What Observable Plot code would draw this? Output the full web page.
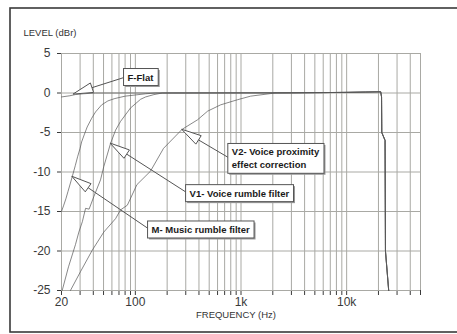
<!DOCTYPE html>
<html><head><meta charset="utf-8">
<script src="https://cdn.jsdelivr.net/npm/d3@7"></script>
<script src="https://cdn.jsdelivr.net/npm/@observablehq/plot@0.6"></script>
<style>
html,body{margin:0;padding:0;background:#fff;}
#chart{position:relative;width:457px;height:334px;overflow:hidden;}
</style></head><body><div id="chart"></div>
<script>
// ---- data ----
const flatFreq  = [20, 24, 27, 32, 42, 60, 100];
const flatLevel = [-0.5, -0.35, -0.2, -0.1, 0, 0, 0];

const musicFreq  = [20, 21, 22, 23, 24.3, 25.5, 27, 28.5, 30, 31, 33, 35, 38.6, 42, 48, 55, 64, 80, 100, 125, 155];
const musicLevel = [-15, -14.2, -13.4, -12.5, -11.4, -10.4, -9.2, -8, -7, -6.2, -5.2, -4.3, -3.2, -2.4, -1.5, -1, -0.7, -0.4, -0.25, -0.1, 0];

const voiceRumbleFreq  = [20.3, 23.3, 27.1, 29.2, 31.5, 33.8, 36.5, 40.5, 46.8, 50.3, 58.2, 65, 72.4, 90, 112, 125, 150, 180];
const voiceRumbleLevel = [-25, -22, -19.2, -17.6, -16.3, -14.6, -14.7, -13.1, -11, -9.3, -6.4, -4.7, -3.6, -1.9, -0.8, -0.5, -0.2, 0];

const proximityFreq  = [24.3, 30.3, 39.1, 50.3, 65, 72.4, 84, 103.5, 139, 185, 277, 387, 483, 641, 928, 1232, 2100];
const proximityLevel = [-25, -22.6, -19.9, -17.6, -15.9, -14.8, -14.2, -11.6, -9.9, -7, -4.6, -3.4, -2.3, -1.5, -0.85, -0.4, 0];

// shared top end (all four responses overlap here)
const topFreq  = [3000, 6000, 10000, 15000, 20000, 21000, 21400, 21500, 23100, 23300, 25000];
const topLevel = [0.02, 0.05, 0.08, 0.12, 0.15, 0.15, -0.5, -5, -6, -20, -25];

// grid + ticks
const gridFreqs = [20,30,40,50,60,70,80,90,100,200,300,400,500,600,700,800,900,1000,2000,3000,4000,5000,6000,7000,8000,9000,10000,20000,30000,40000,50000];
const xTickValues = [20, 100, 1000, 10000, 50000];
const xTickLabels = ["20", "100", "1k", "10k", "50k"];
const levelTicks = [-25, -20, -15, -10, -5, 0, 5];

// callouts
const calloutText  = ["F-Flat", "V2- Voice proximity\neffect correction", "V1- Voice rumble filter", "M- Music rumble filter"];
const calloutBoxFreq  = [77.3, 750, 299, 130.5];
const calloutBoxLevel = [2.1, -8.2, -12.6, -17.2];
const calloutTipFreq  = [26, 277, 58.2, 25.3];
const calloutTipLevel = [-0.2, -4.65, -6.4, -10.6];

// ---- build ----
const toRows = (f, l) => f.map((d, i) => ({freq: d, level: l[i]}));
const series = [
  toRows(flatFreq.concat(topFreq), flatLevel.concat(topLevel)),
  toRows(musicFreq.concat(topFreq), musicLevel.concat(topLevel)),
  toRows(voiceRumbleFreq.concat(topFreq), voiceRumbleLevel.concat(topLevel)),
  toRows(proximityFreq.concat(topFreq), proximityLevel.concat(topLevel))
];
const callouts = calloutText.map((t, i) => ({t, bf: calloutBoxFreq[i], bl: calloutBoxLevel[i]}));

const xFmt = d => { const i = xTickValues.indexOf(d); return i >= 0 ? xTickLabels[i] : ""; };

const plot = Plot.plot({
  width: 457, height: 334,
  marginLeft: 61, marginRight: 37, marginTop: 53, marginBottom: 44,
  style: {fontFamily: "'Liberation Sans', Arial, sans-serif", fontSize: "12px", color: "#3a3a3a", background: "transparent"},
  x: {type: "log", domain: [20, 50000], ticks: gridFreqs, tickFormat: xFmt, tickSize: 5, tickPadding: 2, label: null},
  y: {domain: [-25, 5], ticks: levelTicks, tickFormat: d => String(d), tickSize: 4, tickPadding: 7, label: null},
  marks: [
    Plot.ruleX(gridFreqs, {stroke: "#a9a9a4", strokeWidth: 1}),
    Plot.ruleY(levelTicks, {stroke: "#a9a9a4", strokeWidth: 1}),
    ...series.map(s => Plot.line(s, {x: "freq", y: "level", stroke: "#555", strokeOpacity: 0.7, strokeWidth: 1, curve: "linear"})),
    Plot.text(["LEVEL (dBr)"], {frameAnchor: "top-left", dx: -38, dy: -24, textAnchor: "start", fontSize: 9.5, fill: "#333"}),
    Plot.text(["FREQUENCY (Hz)"], {frameAnchor: "bottom", dx: -5, dy: 27, fontSize: 9.5, fill: "#333"}),
    Plot.text(callouts, {x: "bf", y: "bl", text: "t", textAnchor: "start", dx: 4, fontWeight: "bold", fontSize: 9.5, lineHeight: 1.35, fill: "#1a1a1a"})
  ]
});

document.getElementById("chart").appendChild(plot);
const root = plot.tagName.toLowerCase() === "svg" ? plot : plot.querySelector("svg");
const sx = plot.scale("x"), sy = plot.scale("y");
const base = root.getBoundingClientRect();
const allTexts = Array.from(root.querySelectorAll("text"));
const texts = calloutText.map(t => allTexts.find(el => el.textContent.startsWith(t.split("\n")[0])));
const firstText = texts.find(Boolean);
const calloutG = firstText ? firstText.parentNode : null;
const layer = calloutG ? d3.select(calloutG.parentNode).insert("g", () => calloutG) : d3.select(root).append("g");

texts.forEach((el, i) => {
  if (!el) return;
  const r = el.getBoundingClientRect();
  const bx = r.left - base.left - 4, by = r.top - base.top - 3;
  const bw = r.width + 8, bh = r.height + 6;
  const cy = by + bh / 2;
  const tx = sx.apply(calloutTipFreq[i]), ty = sy.apply(calloutTipLevel[i]);
  const dx = bx - tx, dy = cy - ty, len = Math.hypot(dx, dy);
  const ux = dx / len, uy = dy / len, nx = -uy, ny = ux;
  const hx = tx + ux * 20, hy = ty + uy * 20;
  layer.append("line").attr("x1", hx).attr("y1", hy).attr("x2", bx + 2).attr("y2", cy)
    .attr("stroke", "#555").attr("stroke-width", 1);
  layer.append("polygon")
    .attr("points", [[tx, ty], [hx + nx * 5, hy + ny * 5], [hx - nx * 5, hy - ny * 5]].map(p => p.join(",")).join(" "))
    .attr("fill", "#fff").attr("stroke", "#555").attr("stroke-width", 1);
  layer.append("rect").attr("x", bx + 1.5).attr("y", by + 1.5).attr("width", bw).attr("height", bh).attr("fill", "#9a9a9a");
  layer.append("rect").attr("x", bx).attr("y", by).attr("width", bw).attr("height", bh)
    .attr("fill", "#fff").attr("stroke", "#555").attr("stroke-width", 1);
});

d3.select(root).append("rect").attr("x", 10).attr("y", 8).attr("width", 460).attr("height", 324)
  .attr("fill", "none").attr("stroke", "#3a3a3a").attr("stroke-width", 1.6);
</script>
</body></html>
